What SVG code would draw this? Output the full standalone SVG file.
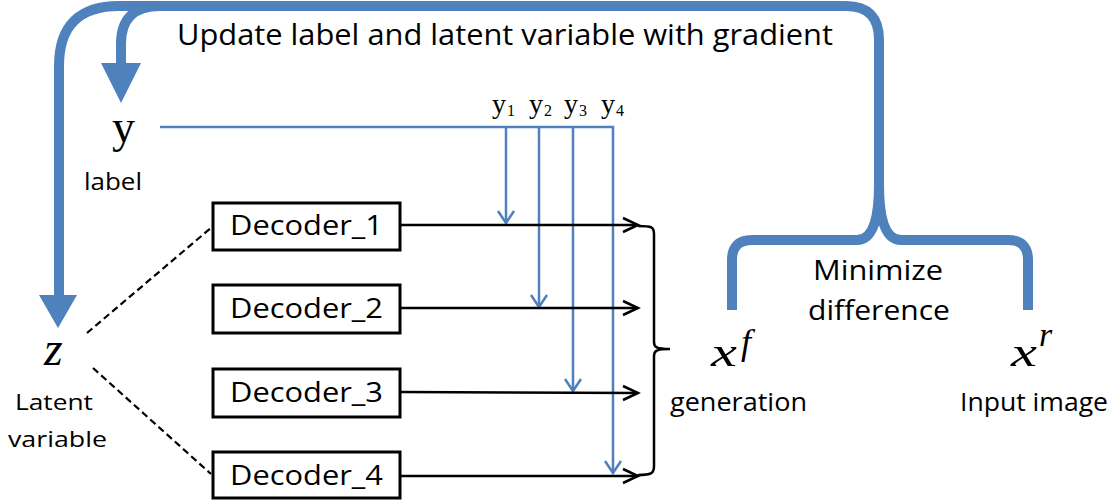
<svg xmlns="http://www.w3.org/2000/svg" width="1117" height="500" viewBox="0 0 1117 500">
<style>
.thick{fill:none;stroke:#4F81BD;stroke-width:10;stroke-linejoin:round}
.thin{fill:none;stroke:#4F81BD;stroke-width:2.5}
.blk{fill:none;stroke:#000;stroke-width:2.5}
.dash{fill:none;stroke:#000;stroke-width:2.2;stroke-dasharray:7 4}
.box{fill:#fff;stroke:#000;stroke-width:3}
.lbl{font-family:"Open Sans","Noto Sans",sans-serif;fill:#000}
.math{font-family:"Liberation Serif","DejaVu Serif",serif;fill:#000}
.mi{font-family:"Liberation Serif","DejaVu Serif",serif;font-style:italic;fill:#000}
</style>
<rect width="1117" height="500" fill="#fff"/>
<g id="connectors">
  <path class="thick" d="M 59 296 L 59 66 Q 59 6 119 6 L 846 6 Q 879 6 879 40 L 879 186"/>
  <path class="thick" d="M 121 64 L 121 44 Q 121 6 160 6"/>
  <polygon points="39,295 77,295 58,328" fill="#4F81BD"/>
  <polygon points="101,63 141,63 121,103" fill="#4F81BD"/>
  <path class="thick" d="M 879 184 Q 879 240 857 240 L 752 240 Q 732 240 732 260 L 732 310"/>
  <path class="thick" d="M 879 184 Q 879 240 901 240 L 1008 240 Q 1028 240 1028 260 L 1028 310"/>
  <path class="thin" d="M 160 127 L 613 127 L 613 473"/>
  <path class="thin" d="M 506 127 L 506 223"/>
  <path class="thin" d="M 539 127 L 539 307"/>
  <path class="thin" d="M 573 127 L 573 391"/>
  <polyline class="thin" points="498,211 506,223 514,211"/>
  <polyline class="thin" points="531,295 539,307 547,295"/>
  <polyline class="thin" points="565,379 573,391 581,379"/>
  <polyline class="thin" points="605,461 613,473 621,461"/>
  <path class="blk" d="M 401 225 L 638 225"/>
  <path class="blk" d="M 401 308 L 638 308"/>
  <path class="blk" d="M 401 392 L 638 393"/>
  <path class="blk" d="M 401 476 L 638 476"/>
  <polyline class="blk" points="623,218 638,225 623,232"/>
  <polyline class="blk" points="623,301 638,308 623,315"/>
  <polyline class="blk" points="623,386 638,393 623,400"/>
  <polyline class="blk" points="623,469 638,476 623,483"/>
  <path class="blk" d="M 638 226 C 652 226 654 227 654 234 L 654 342 C 654 347 656 349 670 349 C 656 349 654 351 654 356 L 654 466 C 654 473 652 475 638 475"/>
  <path class="dash" d="M 87 333 L 212 227"/>
  <path class="dash" d="M 93 368 L 211 474"/>
</g>
<g id="title"><text class="lbl" x="177" y="45" font-size="30" textLength="656" lengthAdjust="spacingAndGlyphs">Update label and latent variable with gradient</text></g>
<g id="node-y">
  <text class="math" x="112" y="142" font-size="46">y</text>
  <text class="lbl" x="84" y="190" font-size="23" textLength="58" lengthAdjust="spacingAndGlyphs">label</text>
</g>
<g id="y-labels">
  <text class="math" x="492" y="113" font-size="28">y</text><text class="math" x="507" y="116" font-size="16">1</text>
  <text class="math" x="529" y="113" font-size="28">y</text><text class="math" x="544" y="116" font-size="16">2</text>
  <text class="math" x="564" y="113" font-size="28">y</text><text class="math" x="579" y="116" font-size="16">3</text>
  <text class="math" x="601" y="113" font-size="28">y</text><text class="math" x="616" y="116" font-size="16">4</text>
</g>
<g id="node-z">
  <text class="mi" x="44" y="365" font-size="48">z</text>
  <text class="lbl" x="15" y="410" font-size="22" textLength="78" lengthAdjust="spacingAndGlyphs">Latent</text>
  <text class="lbl" x="8" y="447" font-size="22" textLength="99" lengthAdjust="spacingAndGlyphs">variable</text>
</g>
<g id="decoder1"><rect class="box" x="213" y="203" width="187" height="47"/><text class="lbl" x="230" y="235" font-size="28" textLength="153" lengthAdjust="spacingAndGlyphs">Decoder_1</text></g>
<g id="decoder2"><rect class="box" x="213" y="285" width="187" height="48"/><text class="lbl" x="230" y="318" font-size="28" textLength="153" lengthAdjust="spacingAndGlyphs">Decoder_2</text></g>
<g id="decoder3"><rect class="box" x="213" y="369" width="187" height="48"/><text class="lbl" x="230" y="402" font-size="28" textLength="153" lengthAdjust="spacingAndGlyphs">Decoder_3</text></g>
<g id="decoder4"><rect class="box" x="213" y="452" width="187" height="46"/><text class="lbl" x="230" y="485" font-size="28" textLength="153" lengthAdjust="spacingAndGlyphs">Decoder_4</text></g>
<g id="node-xf">
  <text class="mi" x="711" y="366" font-size="40" textLength="26" lengthAdjust="spacingAndGlyphs">x</text><text class="mi" x="741" y="354" font-size="36">f</text>
  <text class="lbl" x="670" y="411" font-size="25" textLength="137" lengthAdjust="spacingAndGlyphs">generation</text>
</g>
<g id="node-xr">
  <text class="mi" x="1011" y="366" font-size="40" textLength="26" lengthAdjust="spacingAndGlyphs">x</text><text class="mi" x="1039" y="346" font-size="34">r</text>
  <text class="lbl" x="960" y="411" font-size="25" textLength="148" lengthAdjust="spacingAndGlyphs">Input image</text>
</g>
<g id="minimize">
  <text class="lbl" x="813" y="280" font-size="27" textLength="130" lengthAdjust="spacingAndGlyphs">Minimize</text>
  <text class="lbl" x="808" y="320" font-size="27" textLength="142" lengthAdjust="spacingAndGlyphs">difference</text>
</g>
</svg>
